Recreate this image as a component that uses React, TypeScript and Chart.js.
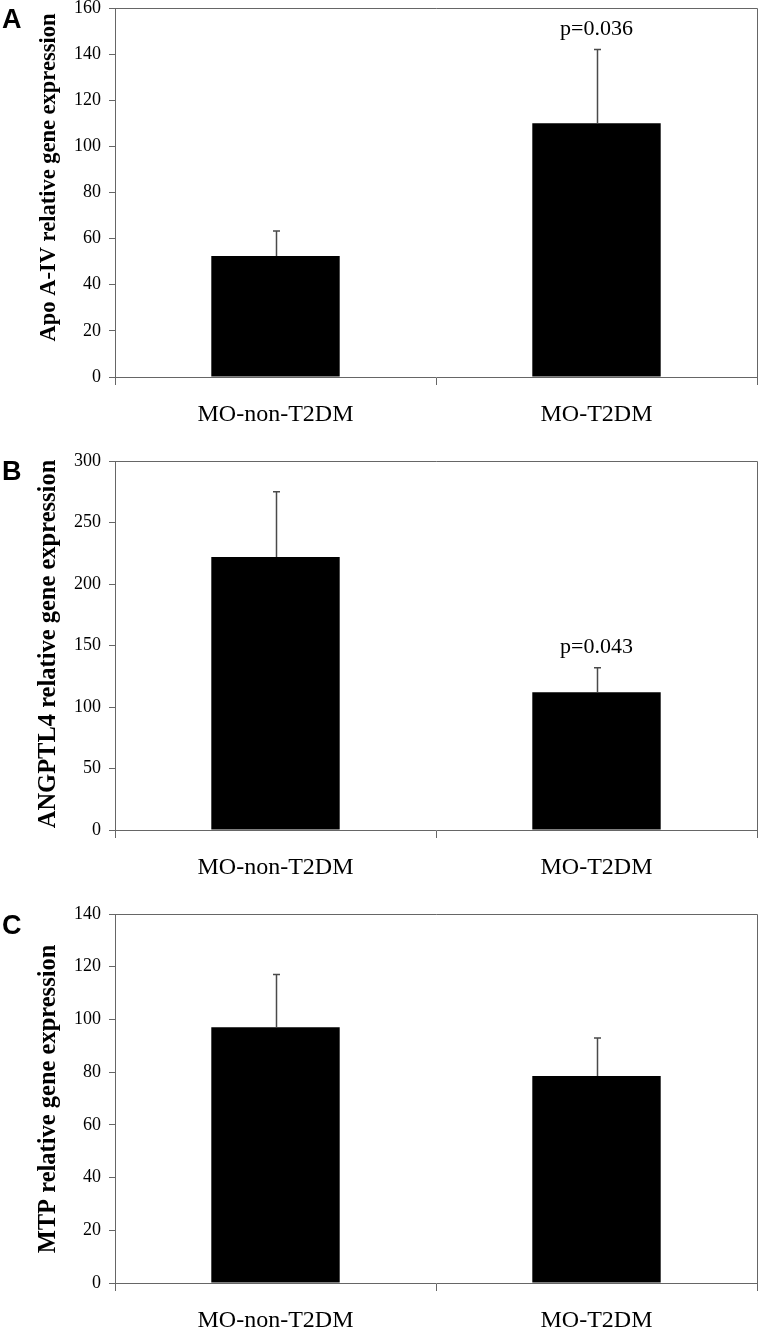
import React, { useEffect, useRef } from "react";
import { Chart, registerables } from "chart.js";

Chart.register(...registerables);

// ---- data ----
const categories = ["MO-non-T2DM", "MO-T2DM"];

const apoMeans = [52.5, 110];
const apoErrTop = [63.3, 142];
const apoPLabels = ["", "p=0.036"];
const apoTicks = { max: 160, step: 20 };

const angMeans = [222, 112];
const angErrTop = [275, 132];
const angPLabels = ["", "p=0.043"];
const angTicks = { max: 300, step: 50 };

const mtpMeans = [97, 78.5];
const mtpErrTop = [117, 93];
const mtpPLabels = ["", ""];
const mtpTicks = { max: 140, step: 20 };

const SERIF = "'Liberation Serif', 'Times New Roman', serif";
const SANS = "'Liberation Sans', Arial, sans-serif";
const AXIS = "#666666";

type PanelProps = {
  letter: string;
  letterBaseline: number;
  yTitle: string;
  titleShift: number;
  titleSize: number;
  means: number[];
  errTop: number[];
  pLabels: string[];
  ticks: { max: number; step: number };
  top: number;
  height: number;
  areaTop: number;
  areaBottom: number;
};

function Panel(p: PanelProps) {
  const ref = useRef<HTMLCanvasElement | null>(null);
  useEffect(() => {
    if (!ref.current) return;
    const overlay = {
      id: "overlay",
      afterDatasetsDraw(chart: any) {
        const ctx = chart.ctx;
        const ys = chart.scales.y;
        const meta = chart.getDatasetMeta(0);
        const area = chart.chartArea;
        ctx.save();
        // frame top & right
        ctx.strokeStyle = AXIS;
        ctx.lineWidth = 1;
        ctx.beginPath();
        ctx.moveTo(area.left, area.top + 0.5);
        ctx.lineTo(area.right + 0.5, area.top + 0.5);
        ctx.lineTo(area.right + 0.5, area.bottom);
        ctx.stroke();
        // error bars
        meta.data.forEach((el: any, i: number) => {
          const x = Math.round(el.x) + 0.5;
          const yT = ys.getPixelForValue(p.errTop[i]);
          ctx.strokeStyle = "#4a4a4a";
          ctx.lineWidth = 1.5;
          ctx.beginPath();
          ctx.moveTo(x, el.y);
          ctx.lineTo(x, yT);
          ctx.moveTo(x - 3.5, yT);
          ctx.lineTo(x + 3.5, yT);
          ctx.stroke();
          if (p.pLabels[i]) {
            ctx.fillStyle = "#000";
            ctx.font = `22px ${SERIF}`;
            ctx.textAlign = "center";
            ctx.textBaseline = "alphabetic";
            ctx.fillText(p.pLabels[i], el.x, yT - 15);
          }
        });
        // panel letter
        ctx.fillStyle = "#000";
        ctx.font = `bold 27px ${SANS}`;
        ctx.textAlign = "left";
        ctx.textBaseline = "alphabetic";
        ctx.fillText(p.letter, 2, p.letterBaseline);
        // y title
        ctx.translate(49, (area.top + area.bottom) / 2 + p.titleShift);
        ctx.rotate(-Math.PI / 2);
        ctx.font = `bold ${p.titleSize}px ${SERIF}`;
        ctx.textAlign = "center";
        ctx.textBaseline = "middle";
        ctx.fillText(p.yTitle, 0, 0);
        ctx.restore();
      },
    };
    const chart = new Chart(ref.current, {
      type: "bar",
      data: {
        labels: categories,
        datasets: [
          {
            data: p.means,
            backgroundColor: "#000000",
            borderWidth: 0,
            barPercentage: 0.4,
            categoryPercentage: 1.0,
          },
        ],
      },
      options: {
        responsive: false,
        animation: false,
        devicePixelRatio: 1,
        layout: { padding: { top: p.areaTop, right: 3, left: 0, bottom: 0 } },
        plugins: { legend: { display: false }, tooltip: { enabled: false } },
        scales: {
          x: {
            grid: {
              offset: true,
              drawOnChartArea: false,
              drawTicks: true,
              tickLength: 8,
              color: AXIS,
            },
            border: { color: AXIS, width: 1 },
            ticks: {
              color: "#000",
              font: { family: SERIF, size: 24 },
              padding: 15,
              maxRotation: 0,
            },
            afterFit: (s: any) => {
              s.height = p.height - p.areaBottom;
              s.paddingLeft = 0;
              s.paddingRight = 0;
            },
          },
          y: {
            min: 0,
            max: p.ticks.max,
            ticks: {
              stepSize: p.ticks.step,
              color: "#000",
              font: { family: SERIF, size: 18 },
              padding: 8,
            },
            grid: {
              drawOnChartArea: false,
              drawTicks: true,
              tickLength: 6,
              color: AXIS,
            },
            border: { color: AXIS, width: 1 },
            afterFit: (s: any) => {
              s.width = 115;
              s.paddingTop = 0;
              s.paddingBottom = 0;
            },
          },
        },
      },
      plugins: [overlay],
    });
    return () => chart.destroy();
  }, []);
  return (
    <div style={{ position: "absolute", left: 0, top: p.top, width: 760, height: p.height }}>
      <canvas ref={ref} width={760} height={p.height} style={{ display: "block" }} />
    </div>
  );
}

export default function App() {
  return (
    <div style={{ position: "absolute", left: 0, top: 0, width: 760, height: 1332, background: "#fff" }}>
      <Panel
        letter="A"
        letterBaseline={28}
        yTitle="Apo A-IV relative gene expression"
        titleShift={-15}
        titleSize={22.5}
        means={apoMeans}
        errTop={apoErrTop}
        pLabels={apoPLabels}
        ticks={apoTicks}
        top={0}
        height={440}
        areaTop={8}
        areaBottom={377}
      />
      <Panel
        letter="B"
        letterBaseline={40}
        yTitle="ANGPTL4 relative gene expression"
        titleShift={-1.5}
        titleSize={24.5}
        means={angMeans}
        errTop={angErrTop}
        pLabels={angPLabels}
        ticks={angTicks}
        top={440}
        height={446}
        areaTop={21}
        areaBottom={390}
      />
      <Panel
        letter="C"
        letterBaseline={48}
        yTitle="MTP relative gene expression"
        titleShift={0.5}
        titleSize={24.5}
        means={mtpMeans}
        errTop={mtpErrTop}
        pLabels={mtpPLabels}
        ticks={mtpTicks}
        top={886}
        height={446}
        areaTop={28}
        areaBottom={397}
      />
    </div>
  );
}
